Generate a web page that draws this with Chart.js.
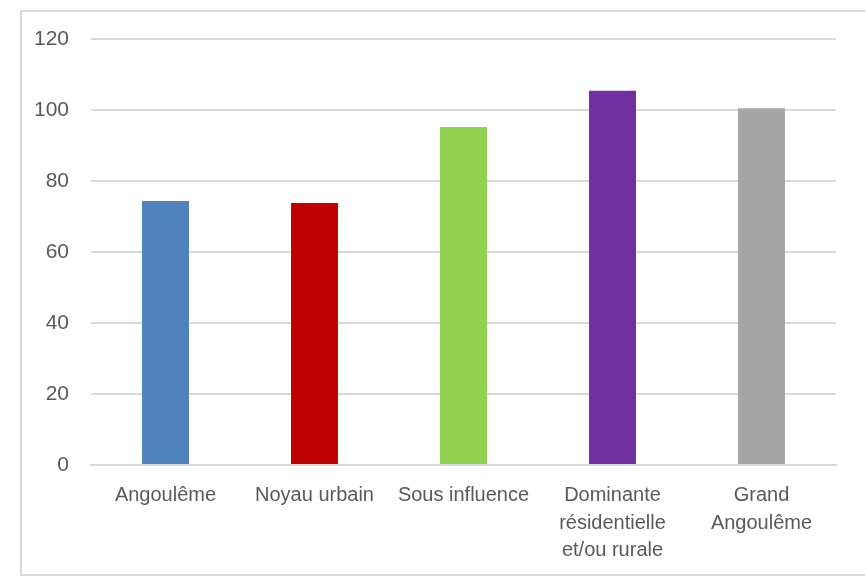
<!DOCTYPE html>
<html lang="fr">
<head>
<meta charset="utf-8">
<title>Indice par territoire</title>
<script src="https://cdn.jsdelivr.net/npm/chart.js@4"></script>
<style>
  html, body { margin: 0; padding: 0; background: #fff; overflow: hidden; }
  #wrap { position: relative; width: 865px; height: 581px; }
  #frame {
    position: absolute; left: 20px; top: 10px; width: 860px; height: 566px;
    border: 2px solid #d9d9d9; box-sizing: border-box;
  }
  canvas { position: absolute; left: 0; top: 0; }
</style>
</head>
<body>
<div id="wrap">
  <div id="frame"></div>
  <canvas id="barChart" width="865" height="581"></canvas>
</div>
<script>
// Territories along the x axis (multi-line where the label wraps)
const categories = [
  "Angoulême",
  "Noyau urbain",
  "Sous influence",
  ["Dominante", "résidentielle", "et/ou rurale"],
  ["Grand", "Angoulême"]
];
const values = [74.4, 73.8, 95.2, 105.4, 100.5];
const barColors = ["#4f81bd", "#c00000", "#92d050", "#7030a0", "#a5a5a5"];
const yTicks = [0, 20, 40, 60, 80, 100, 120];

const fontFamily = "'Liberation Sans Narrow', 'Arial Narrow', 'Liberation Sans', Arial, sans-serif";

const ctx = document.getElementById("barChart").getContext("2d");
new Chart(ctx, {
  type: "bar",
  data: {
    labels: categories,
    datasets: [{
      data: values,
      backgroundColor: barColors,
      borderWidth: 0,
      categoryPercentage: 1,
      barPercentage: 0.315
    }]
  },
  options: {
    responsive: false,
    animation: false,
    layout: { padding: { left: 0, top: 39, right: 29, bottom: 0 } },
    plugins: { legend: { display: false }, tooltip: { enabled: false } },
    scales: {
      x: {
        grid: { display: false, drawTicks: false },
        border: { color: "#d9d9d9", width: 2 },
        ticks: {
          color: "#595959",
          font: { family: fontFamily, size: 20, lineHeight: 1.37 },
          padding: 17,
          maxRotation: 0,
          autoSkip: false
        },
        afterFit: (scale) => { scale.height = 116; }
      },
      y: {
        min: 0,
        max: 120,
        afterBuildTicks: (scale) => { scale.ticks = yTicks.map((v) => ({ value: v })); },
        grid: { color: "#d9d9d9", lineWidth: 2, drawTicks: false },
        border: { display: false },
        ticks: {
          color: "#595959",
          font: { family: fontFamily, size: 21 },
          padding: 22
        },
        afterFit: (scale) => { scale.width = 91; }
      }
    }
  }
});
</script>
</body>
</html>
